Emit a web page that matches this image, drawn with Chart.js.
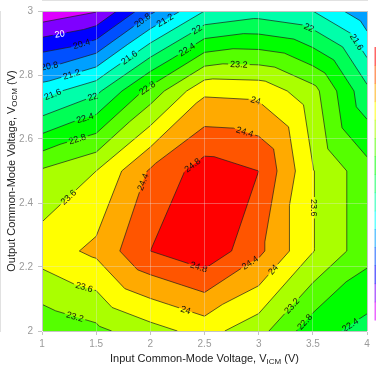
<!DOCTYPE html>
<html>
<head>
<meta charset="utf-8">
<script src="https://cdn.jsdelivr.net/npm/chart.js@4.4.0/dist/chart.umd.min.js"></script>
<style>
  body { margin: 0; background: #fff; }
</style>
</head>
<body>
<canvas id="contour" width="376" height="367"></canvas>
<script>
// grid columns: input common-mode voltage (V)
var vicm = [1, 1.5, 2, 2.5, 3, 3.5, 4];
// grid rows: output common-mode voltage (V)
var vocm = [2, 2.25, 2.5, 2.75, 3];

// measured values along each row, one per vicm column
var atVocm200 = [22.9, 23.1, 23.45, 23.75, 23.35, 22.56, 22.25];
var atVocm225 = [23.8, 24.09, 24.8, 25.1, 24.5, 23.62, 22.95];
var atVocm250 = [23.25, 23.6, 24.45, 25.0, 24.8, 23.62, 22.95];
var atVocm275 = [21.43, 21.9, 22.95, 23.92, 23.88, 23.35, 22.1];
var atVocm300 = [19.3, 19.57, 20.7, 21.6, 21.8, 21.6, 20.9];
var grid = [atVocm200, atVocm225, atVocm250, atVocm275, atVocm300];

// contour levels and the fill colour of each band (below first level ... above last)
var levels = [19.6, 20, 20.4, 20.8, 21.2, 21.6, 22, 22.4, 22.8, 23.2, 23.6, 24, 24.4, 24.8];
var levelText = ['19.6', '20', '20.4', '20.8', '21.2', '21.6', '22', '22.4', '22.8', '23.2', '23.6', '24', '24.4', '24.8'];
var bandColors = ['#dd00ff', '#7f00ff', '#0000ff', '#0050ff', '#00a0ff', '#00ffff', '#00ffaa',
                  '#00ff55', '#00ff00', '#55ff00', '#aaff00', '#ffff00', '#ffaa00', '#ff5500', '#ff0000'];

// where the inline level labels sit: [level, vicm, vocm]
var labelSpots = [
  [20, 1.175, 2.907], [20.4, 1.378, 2.882],
  [20.8, 1.074, 2.820], [20.8, 1.951, 2.960],
  [21.2, 1.277, 2.798], [21.2, 2.154, 2.960],
  [21.6, 1.102, 2.736], [21.6, 1.831, 2.842], [21.6, 3.880, 2.898],
  [22, 1.471, 2.727], [22, 2.431, 2.941], [22, 3.455, 2.941],
  [22.4, 1.397, 2.665], [22.4, 2.338, 2.879], [22.4, 3.834, 2.025],
  [22.8, 1.332, 2.593], [22.8, 1.951, 2.770], [22.8, 3.43, 2.027],
  [23.2, 2.818, 2.835], [23.2, 1.314, 2.056], [23.2, 3.317, 2.075],
  [23.6, 1.258, 2.413], [23.6, 1.397, 2.146], [23.6, 3.483, 2.385],
  [24, 2.975, 2.724], [24, 3.142, 2.189], [24, 2.329, 2.068],
  [24.4, 1.905, 2.469], [24.4, 2.874, 2.624], [24.4, 2.948, 2.199],
  [24.8, 2.394, 2.516], [24.8, 2.458, 2.211]
];

var fontFamily = '"Liberation Sans", Arial, sans-serif';

// split every grid cell into two triangles along the lower-left / upper-right diagonal
var triangles = [];
for (var j = 0; j < vocm.length - 1; j++) {
  for (var i = 0; i < vicm.length - 1; i++) {
    var a = { x: vicm[i], y: vocm[j], v: grid[j][i] };
    var b = { x: vicm[i + 1], y: vocm[j], v: grid[j][i + 1] };
    var c = { x: vicm[i + 1], y: vocm[j + 1], v: grid[j + 1][i + 1] };
    var d = { x: vicm[i], y: vocm[j + 1], v: grid[j + 1][i] };
    triangles.push([a, b, c], [a, c, d]);
  }
}

function clipAbove(poly, lv) {
  var out = [];
  for (var k = 0; k < poly.length; k++) {
    var p = poly[k], q = poly[(k + 1) % poly.length];
    var inP = p.v >= lv, inQ = q.v >= lv;
    if (inP) out.push(p);
    if (inP !== inQ) {
      var t = (lv - p.v) / (q.v - p.v);
      out.push({ x: p.x + t * (q.x - p.x), y: p.y + t * (q.y - p.y), v: lv });
    }
  }
  return out;
}

function isoSegments(lv) {
  var segs = [];
  triangles.forEach(function (tri) {
    var pts = [];
    for (var k = 0; k < 3; k++) {
      var p = tri[k], q = tri[(k + 1) % 3];
      if ((p.v >= lv) !== (q.v >= lv)) {
        var t = (lv - p.v) / (q.v - p.v);
        pts.push({ x: p.x + t * (q.x - p.x), y: p.y + t * (q.y - p.y) });
      }
    }
    if (pts.length === 2) segs.push(pts);
  });
  return segs;
}

function fmtTick(v) { return String(+v.toFixed(2)); }

var contourPlugin = {
  id: 'contour',
  beforeDatasetsDraw: function (chart) {
    var ctx = chart.ctx, area = chart.chartArea;
    var sx = chart.scales.x, sy = chart.scales.y;
    function px(p) { return [sx.getPixelForValue(p.x), sy.getPixelForValue(p.y)]; }

    ctx.save();
    ctx.beginPath();
    ctx.rect(area.left, area.top, area.right - area.left, area.bottom - area.top);
    ctx.clip();

    // filled bands, stacked from the lowest level up
    ctx.fillStyle = bandColors[0];
    ctx.fillRect(area.left, area.top, area.right - area.left, area.bottom - area.top);
    levels.forEach(function (lv, k) {
      ctx.beginPath();
      triangles.forEach(function (tri) {
        var poly = clipAbove(tri, lv);
        if (poly.length < 3) return;
        poly.forEach(function (p, n) {
          var q = px(p);
          if (n === 0) ctx.moveTo(q[0], q[1]); else ctx.lineTo(q[0], q[1]);
        });
        ctx.closePath();
      });
      ctx.fillStyle = bandColors[k + 1];
      ctx.fill();
    });

    // place labels on the nearest point of their contour
    ctx.font = '9px ' + fontFamily;
    var placed = labelSpots.map(function (s) {
      var segs = isoSegments(s[0]);
      var target = px({ x: s[1], y: s[2] });
      var best = null;
      segs.forEach(function (sg) {
        var p = px(sg[0]), q = px(sg[1]);
        var dx = q[0] - p[0], dy = q[1] - p[1];
        var len2 = dx * dx + dy * dy || 1;
        var t = ((target[0] - p[0]) * dx + (target[1] - p[1]) * dy) / len2;
        t = Math.max(0, Math.min(1, t));
        var cx = p[0] + t * dx, cy = p[1] + t * dy;
        var dist = (cx - target[0]) * (cx - target[0]) + (cy - target[1]) * (cy - target[1]);
        if (!best || dist < best.dist) best = { dist: dist, x: cx, y: cy, ang: Math.atan2(dy, dx) };
      });
      if (!best) return null;
      var ang = best.ang;
      if (ang > Math.PI / 2) ang -= Math.PI;
      if (ang <= -Math.PI / 2) ang += Math.PI;
      var text = levelText[levels.indexOf(s[0])];
      return { x: best.x, y: best.y, ang: ang, text: text, w: ctx.measureText(text).width, level: s[0] };
    }).filter(Boolean);

    // contour lines with gaps where labels go
    ctx.save();
    ctx.beginPath();
    ctx.rect(0, 0, chart.width, chart.height);
    placed.forEach(function (l) {
      var hw = l.w / 2 + 2, hh = 4;
      var cs = Math.cos(l.ang), sn = Math.sin(l.ang);
      var corners = [[-hw, -hh], [hw, -hh], [hw, hh], [-hw, hh]];
      corners.forEach(function (c, n) {
        var x = l.x + c[0] * cs - c[1] * sn, y = l.y + c[0] * sn + c[1] * cs;
        if (n === 0) ctx.moveTo(x, y); else ctx.lineTo(x, y);
      });
      ctx.closePath();
    });
    ctx.clip('evenodd');
    ctx.strokeStyle = '#1e1e1e';
    ctx.lineWidth = 0.7;
    levels.forEach(function (lv) {
      ctx.beginPath();
      isoSegments(lv).forEach(function (sg) {
        var p = px(sg[0]), q = px(sg[1]);
        ctx.moveTo(p[0], p[1]);
        ctx.lineTo(q[0], q[1]);
      });
      ctx.stroke();
    });
    ctx.restore();

    ctx.textAlign = 'center';
    ctx.textBaseline = 'middle';
    placed.forEach(function (l) {
      ctx.save();
      ctx.translate(l.x, l.y);
      ctx.rotate(l.ang);
      ctx.fillStyle = l.level <= 20 ? '#ffffff' : '#111111';
      ctx.fillText(l.text, 0, 0.5);
      ctx.restore();
    });

    ctx.restore();
  },
  afterDraw: function (chart) {
    var ctx = chart.ctx, area = chart.chartArea;

    // axis titles with subscripts
    function rich(parts, cx, cy) {
      var w = 0;
      parts.forEach(function (p) {
        ctx.font = (p[1] ? '8px ' : '11px ') + fontFamily;
        w += ctx.measureText(p[0]).width;
      });
      var x = cx - w / 2;
      ctx.textAlign = 'left';
      ctx.textBaseline = 'middle';
      parts.forEach(function (p) {
        ctx.font = (p[1] ? '8px ' : '11px ') + fontFamily;
        ctx.fillText(p[0], x, cy + (p[1] ? 2.5 : 0));
        x += ctx.measureText(p[0]).width;
      });
    }
    ctx.save();
    ctx.fillStyle = '#222';
    rich([['Input Common-Mode Voltage, V'], ['ICM', true], [' (V)']], (area.left + area.right) / 2, 359);
    ctx.translate(12, (area.top + area.bottom) / 2);
    ctx.rotate(-Math.PI / 2);
    rich([['Output Common-Mode Voltage, V'], ['OCM', true], [' (V)']], 0, 0);
    ctx.restore();

    // colour key strip at the right edge
    var top = 47, bottom = 320, n = bandColors.length;
    var h = (bottom - top) / n;
    ctx.save();
    ctx.globalAlpha = 0.6;
    for (var k = 0; k < n; k++) {
      ctx.fillStyle = bandColors[n - 1 - k];
      ctx.fillRect(374.5, top + k * h, 1.5, h + 0.5);
    }
    ctx.restore();
  }
};

function gridColor(c) {
  var last = c.scale.ticks.length - 1;
  if (c.index === 0 || c.index === last) return '#c4c4c4';
  return 'rgba(230,230,230,0.35)';
}

new Chart(document.getElementById('contour'), {
  type: 'scatter',
  data: { datasets: [] },
  options: {
    responsive: false,
    animation: false,
    layout: { padding: { top: 9, right: 9, left: 0, bottom: 0 } },
    plugins: { legend: { display: false }, tooltip: { enabled: false } },
    scales: {
      x: {
        type: 'linear', min: 1, max: 4,
        afterFit: function (s) { s.height = 36; },
        ticks: { stepSize: 0.5, color: '#9a9a9a', padding: 3, maxRotation: 0, autoSkip: false,
                 font: { family: fontFamily, size: 10 }, callback: fmtTick },
        grid: { color: gridColor, tickColor: '#c4c4c4', tickLength: 4, z: 1 },
        border: { color: '#c4c4c4' }
      },
      y: {
        type: 'linear', min: 2, max: 3,
        afterFit: function (s) { s.width = 42; },
        ticks: { stepSize: 0.2, color: '#9a9a9a', padding: 5, autoSkip: false,
                 font: { family: fontFamily, size: 10 }, callback: fmtTick },
        grid: { color: gridColor, tickColor: '#c4c4c4', tickLength: 4, z: 1 },
        border: { color: '#c4c4c4' }
      }
    }
  },
  plugins: [contourPlugin]
});
</script>
</body>
</html>
